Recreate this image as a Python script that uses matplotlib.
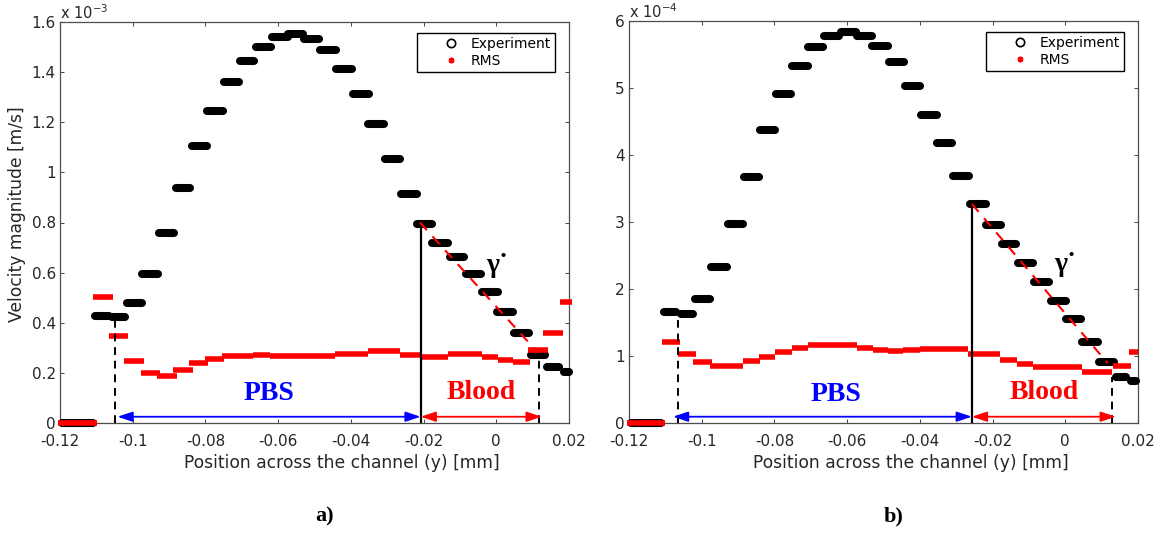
import matplotlib
matplotlib.use("Agg")
import matplotlib.pyplot as plt
from matplotlib.lines import Line2D

# ---- data ----
# left panel a), velocity in units of 1e-3 m/s, position in mm
a_exp_x0 = [-0.1195, -0.1104, -0.1057, -0.1016, -0.0975, -0.0928, -0.0881, -0.0837, -0.0796, -0.0749,
            -0.0705, -0.0661, -0.0617, -0.0573, -0.0529, -0.0485, -0.0441, -0.0394, -0.0353, -0.0306,
            -0.0262, -0.0218, -0.0177, -0.0127, -0.0083, -0.0039, 0.0002, 0.0049, 0.0095, 0.0139, 0.0186]
a_exp_x1 = [-0.1109, -0.1065, -0.1021, -0.0975, -0.0931, -0.0887, -0.0843, -0.0796, -0.0752, -0.0708,
            -0.0667, -0.0620, -0.0573, -0.0532, -0.0488, -0.0441, -0.0397, -0.0350, -0.0309, -0.0265,
            -0.0218, -0.0177, -0.0133, -0.0089, -0.0042, 0.0005, 0.0046, 0.0090, 0.0134, 0.0172, 0.0200]
a_exp_v = [0.0, 0.428, 0.424, 0.478, 0.593, 0.758, 0.937, 1.105, 1.245, 1.361,
           1.444, 1.501, 1.539, 1.551, 1.531, 1.488, 1.413, 1.313, 1.192, 1.052,
           0.912, 0.794, 0.720, 0.664, 0.595, 0.521, 0.444, 0.358, 0.271, 0.223, 0.205]

a_rms_x0 = [-0.1206, -0.1109, -0.1065, -0.1024, -0.0977, -0.0933, -0.0889, -0.0845, -0.0801, -0.0755,
            -0.0669, -0.0622, -0.0444, -0.0353, -0.0265, -0.0210, -0.0133, -0.0039, 0.0005, 0.0046,
            0.0087, 0.0128, 0.0175]
a_rms_x1 = [-0.1098, -0.1054, -0.1013, -0.0969, -0.0925, -0.0878, -0.0834, -0.0793, -0.0749, -0.0669,
            -0.0622, -0.0444, -0.0353, -0.0265, -0.0210, -0.0133, -0.0039, 0.0005, 0.0046, 0.0093,
            0.0142, 0.0183, 0.0208]
a_rms_v = [0.0, 0.504, 0.347, 0.247, 0.200, 0.188, 0.212, 0.238, 0.257, 0.267,
           0.271, 0.266, 0.274, 0.287, 0.271, 0.265, 0.274, 0.262, 0.251, 0.245,
           0.291, 0.358, 0.482]

# right panel b), velocity in units of 1e-4 m/s
b_exp_x0 = [-0.1195, -0.1104, -0.1057, -0.1019, -0.0975, -0.0928, -0.0884, -0.0840, -0.0796, -0.0752,
            -0.0708, -0.0664, -0.0617, -0.0573, -0.0532, -0.0485, -0.0441, -0.0397, -0.0353, -0.0309,
            -0.0262, -0.0218, -0.0174, -0.0130, -0.0086, -0.0039, 0.0002, 0.0046, 0.0093, 0.0139, 0.0181]
b_exp_x1 = [-0.1112, -0.1071, -0.1024, -0.0977, -0.0931, -0.0887, -0.0843, -0.0799, -0.0755, -0.0708,
            -0.0667, -0.0622, -0.0576, -0.0532, -0.0488, -0.0444, -0.0400, -0.0353, -0.0312, -0.0265,
            -0.0218, -0.0177, -0.0136, -0.0089, -0.0045, 0.0002, 0.0043, 0.0090, 0.0134, 0.0167, 0.0194]
b_exp_v = [0.0, 1.661, 1.622, 1.851, 2.324, 2.970, 3.672, 4.373, 4.910, 5.333,
           5.612, 5.776, 5.830, 5.776, 5.631, 5.388, 5.034, 4.597, 4.175, 3.687,
           3.269, 2.950, 2.670, 2.393, 2.109, 1.825, 1.548, 1.204, 0.906, 0.691, 0.631]

b_rms_x0 = [-0.1206, -0.1109, -0.1065, -0.1024, -0.0977, -0.0887, -0.0843, -0.0799, -0.0752, -0.0708,
            -0.0573, -0.0529, -0.0488, -0.0446, -0.0400, -0.0268, -0.0180, -0.0133, -0.0089, 0.0046,
            0.0131, 0.0175]
b_rms_x1 = [-0.1101, -0.1060, -0.1016, -0.0972, -0.0887, -0.0840, -0.0799, -0.0752, -0.0708, -0.0573,
            -0.0529, -0.0488, -0.0446, -0.0400, -0.0268, -0.0180, -0.0133, -0.0089, 0.0046, 0.0128,
            0.0181, 0.0200]
b_rms_v = [0.0, 1.204, 1.030, 0.910, 0.850, 0.930, 0.990, 1.064, 1.124, 1.170,
           1.124, 1.090, 1.070, 1.090, 1.104, 1.030, 0.940, 0.876, 0.840, 0.766,
           0.855, 1.064]

# annotation positions (mm, scaled velocity)
a_wall, a_wall_top = -0.1049, 0.41
a_iface, a_iface_top = -0.0208, 0.79
a_end, a_end_top = 0.0118, 0.28
a_arrow_y, a_arrow_l, a_arrow_r = 0.025, -0.1042, 0.0125
a_slope = ([-0.0210, 0.0115], [0.80, 0.28])

b_wall, b_wall_top = -0.1064, 1.59
b_iface, b_iface_top = -0.0257, 3.27
b_end, b_end_top = 0.0128, 0.69
b_arrow_y, b_arrow_l, b_arrow_r = 0.094, -0.1079, 0.0139
b_slope = ([-0.0257, 0.0117], [3.27, 0.89])

xticks = [-0.12, -0.1, -0.08, -0.06, -0.04, -0.02, 0, 0.02]
xticklabels = ['-0.12', '-0.1', '-0.08', '-0.06', '-0.04', '-0.02', '0', '0.02']
a_yticks = [0, 0.2, 0.4, 0.6, 0.8, 1, 1.2, 1.4, 1.6]
a_yticklabels = ['0', '0.2', '0.4', '0.6', '0.8', '1', '1.2', '1.4', '1.6']
b_yticks = [0, 1, 2, 3, 4, 5, 6]

W, H = 1171, 533
fig = plt.figure(figsize=(W / 100, H / 100), dpi=100)
axA = fig.add_axes([60 / W, 110 / H, 509 / W, 401 / H])
axB = fig.add_axes([629 / W, 110 / H, 509 / W, 402 / H])

serif = 'Liberation Serif'
axcol = '#4d4d4d'
txtcol = '#262626'


def draw_panel(ax, ex0, ex1, ev, rx0, rx1, rv, ymax, yticks, ylabels, expo,
               wall, wall_top, iface, iface_top, end, end_top,
               ay, al, ar, slope, pbs_xy, blood_xy, gam_xy):
    # experiment: overlapping circles -> thick black rounded blobs
    for x0, x1, v in zip(ex0, ex1, ev):
        ax.plot([x0, x1], [v, v], color='k', lw=5.8, solid_capstyle='round', clip_on=False, zorder=3)
    for x0, x1, v in zip(rx0, rx1, rv):
        ax.plot([x0, x1], [v, v], color='red', lw=4.0, solid_capstyle='butt', clip_on=False, zorder=4)

    ax.plot([wall, wall], [0, wall_top], color='k', lw=1.4, ls=(0, (4, 3)), zorder=5)
    ax.plot([iface, iface], [0, iface_top], color='k', lw=1.6, zorder=5)
    ax.plot([end, end], [0, end_top], color='k', lw=1.4, ls=(0, (4, 3)), zorder=5)
    ax.plot(slope[0], slope[1], color='red', lw=1.5, ls=(0, (5, 4)), zorder=6)

    aprops = dict(arrowstyle='<|-|>,head_length=0.9,head_width=0.3', lw=1.3,
                  shrinkA=0, shrinkB=0)
    ax.annotate('', xy=(iface, ay), xytext=(al, ay),
                arrowprops=dict(aprops, color='blue'), zorder=6)
    ax.annotate('', xy=(ar, ay), xytext=(iface, ay),
                arrowprops=dict(aprops, color='red'), zorder=6)

    ax.text(pbs_xy[0], pbs_xy[1], 'PBS', color='blue', family=serif, fontweight='bold',
            fontsize=20, ha='center', va='center')
    ax.text(blood_xy[0], blood_xy[1], 'Blood', color='red', family=serif, fontweight='bold',
            fontsize=20, ha='center', va='center')
    ax.text(gam_xy[0], gam_xy[1], 'γ˙', color='k', family=serif, fontweight='bold',
            fontsize=20, ha='center', va='center')

    ax.set_xlim(-0.12, 0.02)
    ax.set_ylim(0, ymax)
    ax.set_xticks(xticks)
    ax.set_xticklabels(xticklabels)
    ax.set_yticks(yticks)
    ax.set_yticklabels(ylabels)
    ax.tick_params(direction='in', top=True, right=True, length=3, width=0.75,
                   colors=axcol, labelcolor=txtcol, labelsize=11)
    ax.tick_params(axis='x', pad=8)
    ax.tick_params(axis='y', pad=3)
    for s in ax.spines.values():
        s.set_color(axcol)
        s.set_linewidth(0.9)

    ax.text(0.243, -0.10, 'Position across the channel (y) [mm]', transform=ax.transAxes,
            fontsize=12.3, color=txtcol, ha='left', va='center')
    ax.text(0.0, 1.0, 'x $10^{%d}$' % expo, transform=ax.transAxes,
            fontsize=10.5, color=txtcol, ha='left', va='bottom')

    handles = [Line2D([], [], ls='none', marker='o', mfc='none', mec='k', ms=6, mew=1.2),
               Line2D([], [], ls='none', marker=(6, 2, 0), color='red', ms=4, mew=1.5)]
    ax.legend(handles, ['Experiment', 'RMS'], loc='upper right', bbox_to_anchor=(0.972, 0.973),
              fontsize=10, frameon=True, fancybox=False, edgecolor='k', framealpha=1,
              borderpad=0.3, labelspacing=0.2, handlelength=4.3, handletextpad=-0.75,
              borderaxespad=0)


draw_panel(axA, a_exp_x0, a_exp_x1, a_exp_v, a_rms_x0, a_rms_x1, a_rms_v,
           1.6, a_yticks, a_yticklabels, -3,
           a_wall, a_wall_top, a_iface, a_iface_top, a_end, a_end_top,
           a_arrow_y, a_arrow_l, a_arrow_r, a_slope,
           (-0.0625, 0.116), (-0.0042, 0.120), (0.0002, 0.630))
draw_panel(axB, b_exp_x0, b_exp_x1, b_exp_v, b_rms_x0, b_rms_x1, b_rms_v,
           6, b_yticks, [str(t) for t in b_yticks], -4,
           b_wall, b_wall_top, b_iface, b_iface_top, b_end, b_end_top,
           b_arrow_y, b_arrow_l, b_arrow_r, b_slope,
           (-0.0631, 0.418), (-0.0059, 0.448), (-0.0001, 2.373))

axA.set_ylabel('Velocity magnitude [m/s]', fontsize=12.3, color=txtcol)
axA.yaxis.set_label_coords(-0.066, 0.521)

fig.text(325 / W, 1 - 516 / H, 'a)', family=serif, fontweight='bold', fontsize=16,
         ha='center', va='center')
fig.text(894 / W, 1 - 516 / H, 'b)', family=serif, fontweight='bold', fontsize=16,
         ha='center', va='center')

fig.savefig('out.png', dpi=100)
